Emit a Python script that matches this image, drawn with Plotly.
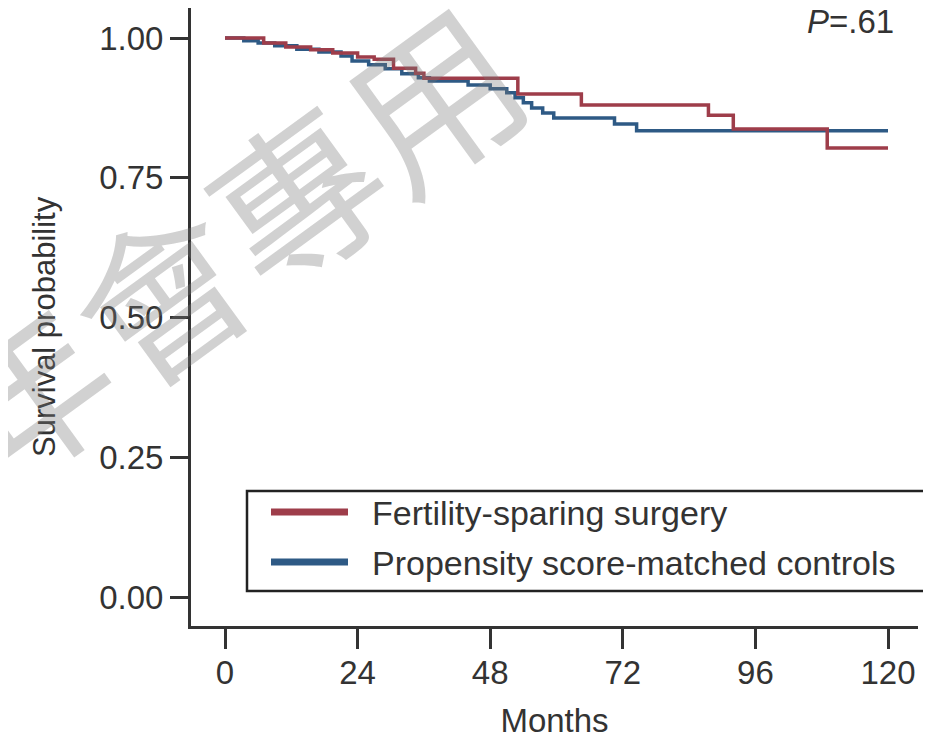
import plotly.graph_objects as go

# ---- data ----
fss_months = [0, 7, 11, 15.5, 19.5, 24, 27, 30.5, 34.5, 36, 53, 64.5, 87.5, 92, 109, 120]
fss_surv = [1.00, 0.991, 0.984, 0.979, 0.973, 0.966, 0.962, 0.946, 0.937, 0.928,
            0.900, 0.880, 0.862, 0.837, 0.803, 0.803]

ctrl_months = [0, 3.4, 6, 9, 13, 17, 21, 23, 26, 29, 32, 35, 37, 44, 48, 51, 52.5,
               54, 55.5, 57.5, 59.5, 70.5, 74.5, 120]
ctrl_surv = [1.00, 0.995, 0.991, 0.986, 0.980, 0.975, 0.968, 0.959, 0.952, 0.945,
             0.936, 0.929, 0.923, 0.916, 0.909, 0.902, 0.893, 0.884, 0.875, 0.866,
             0.857, 0.846, 0.834, 0.834]

x_ticks = [0, 24, 48, 72, 96, 120]
y_ticks = [0.00, 0.25, 0.50, 0.75, 1.00]
y_tick_text = ["0.00", "0.25", "0.50", "0.75", "1.00"]
series_names = ["Fertility-sparing surgery", "Propensity score-matched controls"]
p_text = "<i>P</i>=.61"
watermark = "年會專用"

RED = "#9E3D4A"
BLUE = "#2E5A85"
FONT = "Liberation Sans, Arial, sans-serif"
TXT = "#333333"

W, H = 931, 737
OFF = 8  # page body margin offset of the figure in the screenshot
# plot area in screenshot pixels: x 191..918, y 8..626
L = 191 - OFF
T = 8 - OFF
R = W - (918 - OFF)
B = H - (626 - OFF)
pw, ph = W - L - R, H - T - B


def px(xs):
    """screenshot x pixel -> paper x"""
    return (xs - OFF - L) / pw


def py(ys):
    """screenshot y pixel -> paper y"""
    return (H - B - (ys - OFF)) / ph


fig = go.Figure()
fig.add_trace(go.Scatter(x=ctrl_months, y=ctrl_surv, mode="lines", line_shape="hv",
                         line=dict(color=BLUE, width=3.5), name=series_names[1],
                         showlegend=False))
fig.add_trace(go.Scatter(x=fss_months, y=fss_surv, mode="lines", line_shape="hv",
                         line=dict(color=RED, width=3.5), name=series_names[0],
                         showlegend=False))

shapes = []
annotations = []

# custom legend box
shapes.append(dict(type="rect", xref="paper", yref="paper",
                   x0=px(247), x1=px(927), y0=py(591), y1=py(491),
                   line=dict(color="#222222", width=2.5), fillcolor="white", layer="above"))
for yy, col, name in [(512, RED, series_names[0]), (562, BLUE, series_names[1])]:
    shapes.append(dict(type="line", xref="paper", yref="paper",
                       x0=px(271), x1=px(348), y0=py(yy), y1=py(yy),
                       line=dict(color=col, width=7), layer="above"))
    annotations.append(dict(xref="paper", yref="paper", x=px(370), y=py(yy + 1),
                            text=name, showarrow=False, xanchor="left", yanchor="middle",
                            font=dict(family=FONT, size=34, color=TXT)))

# P value
annotations.append(dict(xref="paper", yref="paper", x=px(896), y=py(22), text=p_text,
                        showarrow=False, xanchor="right", yanchor="middle",
                        font=dict(family=FONT, size=33, color=TXT)))

# y-axis title
annotations.append(dict(xref="paper", yref="paper", x=px(45), y=py(327),
                        text="Survival probability", showarrow=False, textangle=-90,
                        xanchor="center", yanchor="middle",
                        font=dict(family=FONT, size=31, color=TXT)))

# watermark
annotations.append(dict(xref="paper", yref="paper", x=px(225), y=py(240), text=watermark,
                        showarrow=False, xanchor="center", yanchor="middle", textangle=-36,
                        font=dict(family="Noto Sans CJK TC", size=168,
                                  color="rgba(120,120,120,0.34)")))

fig.update_layout(
    width=W, height=H,
    margin=dict(l=L, r=R, t=T, b=B),
    paper_bgcolor="white", plot_bgcolor="white",
    showlegend=False,
    shapes=shapes, annotations=annotations,
    xaxis=dict(range=[(191 - 225) / 5.525, (918 - 225) / 5.525], automargin=False,
               tickvals=x_ticks, ticktext=[str(v) for v in x_ticks],
               showgrid=False, zeroline=False, showline=True, linecolor="#333333",
               linewidth=3, ticks="outside", ticklen=20, tickwidth=2.5, tickcolor="#333333",
               ticklabelstandoff=-5,
               tickfont=dict(family=FONT, size=33, color=TXT),
               title=dict(text="Months", font=dict(family=FONT, size=33, color=TXT),
                          standoff=20)),
    yaxis=dict(range=[-(626 - 597) / 559, 1 + (38 - 8) / 559], automargin=False,
               tickvals=y_ticks, ticktext=y_tick_text,
               showgrid=False, zeroline=False, showline=True, linecolor="#333333",
               linewidth=3, ticks="outside", ticklen=18, tickwidth=2.5, tickcolor="#333333",
               tickfont=dict(family=FONT, size=33, color=TXT)),
)

fig.write_html("out.html")
